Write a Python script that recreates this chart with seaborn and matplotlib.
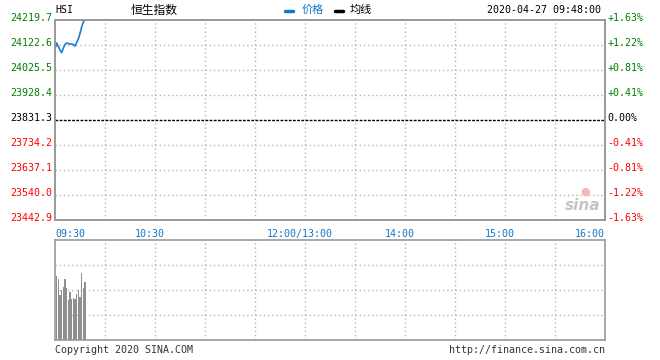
import numpy as np
import pandas as pd
import matplotlib
matplotlib.use("Agg")
import matplotlib.pyplot as plt
import matplotlib.transforms as mtransforms
import seaborn as sns

# ---------------- data ----------------
price_minutes = list(range(0, 19))          # 09:30 .. 09:48 (trading-minute index)
price_values = [24107.1, 24130.4, 24116.8, 24103.2, 24092.7, 24110.9, 24124.5,
                24130.4, 24128.4, 24126.5, 24126.5, 24124.5, 24118.7, 24132.3,
                24145.9, 24167.3, 24192.5, 24211.9, 24222.0]
volume_minutes = list(range(1, 19))
volume_values = [64, 61, 45, 50, 53, 61, 52, 40, 48, 41, 42, 41, 46, 50, 43, 67, 52, 58]

prev_close = 23831.3
left_ticks = [24219.7, 24122.6, 24025.5, 23928.4, 23831.3, 23734.2, 23637.1, 23540.0, 23442.9]
right_labels = ["+1.63%", "+1.22%", "+0.81%", "+0.41%", "0.00%", "-0.41%", "-0.81%", "-1.22%", "-1.63%"]
time_ticks = [0, 60, 150, 210, 270, 330]
time_labels = ["09:30", "10:30", "12:00/13:00", "14:00", "15:00", "16:00"]
grid_minutes = [30, 60, 90, 120, 150, 180, 210, 240, 270, 300]

title_code = "HSI"
title_name = "恒生指数"
legend_labels = ["价格", "均线"]
timestamp = "2020-04-27 09:48:00"
footer_left = "Copyright 2020 SINA.COM"
footer_right = "http://finance.sina.com.cn"

# ---------------- style ----------------
sns.set_theme(style="white")
plt.rcParams['font.family'] = ['DejaVu Sans Mono', 'Noto Sans CJK SC']
MONO = 7.2
BLUE = "#1a7fd0"
TBLUE = "#1177cc"
GREEN = "#008000"
RED = "#ff0000"
SPINE = "#999999"
GRID = "#b4b4b4"

W, H = 660, 360
fig = plt.figure(figsize=(W / 100, H / 100), dpi=100)

def px_rect(x0, y0, x1, y1):
    return [x0 / W, 1 - y1 / H, (x1 - x0) / W, (y1 - y0) / H]

ax = fig.add_axes(px_rect(55, 20, 605, 220))
axv = fig.add_axes(px_rect(55, 240, 605, 340))

df_price = pd.DataFrame({"minute": price_minutes, "price": price_values})
df_vol = pd.DataFrame({"minute": volume_minutes, "volume": volume_values})

# ---------------- main price panel ----------------
ymin, ymax = left_ticks[-1], left_ticks[0]
for t in grid_minutes:
    ax.axvline(t, color=GRID, lw=1, ls=(0, (1, 2)), zorder=0)
for v in left_ticks[1:-1]:
    if abs(v - prev_close) < 1e-6:
        ax.axhline(v, color="black", lw=1, ls=(0, (2, 1)), zorder=1)
    else:
        ax.axhline(v, color=GRID, lw=1, ls=(0, (1, 2)), zorder=0)

sns.lineplot(data=df_price, x="minute", y="price", ax=ax, color=BLUE, lw=1.2, zorder=3)
ax.set_xlim(0, 330)
ax.set_ylim(ymin, ymax)
ax.set_xlabel("")
ax.set_ylabel("")

def label_color(v):
    if v > prev_close + 1e-6:
        return GREEN
    if v < prev_close - 1e-6:
        return RED
    return "black"

up = mtransforms.ScaledTranslation(0, 3 / 100, fig.dpi_scale_trans)

ax.set_yticks(left_ticks)
ax.set_yticklabels([f"{v:.1f}" for v in left_ticks], fontsize=MONO)
ax.tick_params(axis="y", length=0, pad=2.2)
for lab, v in zip(ax.get_yticklabels(), left_ticks):
    lab.set_color(label_color(v))
    lab.set_transform(lab.get_transform() + up)

ax2 = ax.twinx()
ax2.set_ylim(ymin, ymax)
ax2.set_yticks(left_ticks)
ax2.set_yticklabels(right_labels, fontsize=MONO)
ax2.tick_params(axis="y", length=0, pad=1.5)
for lab, v in zip(ax2.get_yticklabels(), left_ticks):
    lab.set_color(label_color(v))
    lab.set_transform(lab.get_transform() + up)

ax.set_xticks(time_ticks)
ax.set_xticklabels(time_labels, fontsize=MONO, color=TBLUE)
ax.tick_params(axis="x", length=0, pad=6.5)
left_shift = mtransforms.ScaledTranslation(-5 / 100, 0, fig.dpi_scale_trans)
xl = ax.get_xticklabels()
for i, lab in enumerate(xl):
    if i == 0:
        lab.set_ha("left")
    elif i == len(xl) - 1:
        lab.set_ha("right")
    else:
        lab.set_transform(lab.get_transform() + left_shift)

for a in (ax, ax2):
    for s in a.spines.values():
        s.set_color(SPINE)
        s.set_linewidth(1.2)
        s.set_visible(True)

# sina watermark
fig.text(583 / W, 1 - 206 / H, "sina", fontsize=11, fontstyle="italic", fontweight="bold",
         color="#c4c4c4", ha="center", va="center", family="DejaVu Sans")
fig.text(585 / W, 1 - 192 / H, "●", fontsize=8, color="#f4b8b8", ha="center", va="center",
         family="DejaVu Sans")

# ---------------- volume panel ----------------
for t in grid_minutes:
    axv.axvline(t, color=GRID, lw=1, ls=(0, (1, 2)), zorder=0)
for v in (25, 50, 75):
    axv.axhline(v, color=GRID, lw=1, ls=(0, (1, 2)), zorder=0)
sns.barplot(data=df_vol, x="minute", y="volume", ax=axv, native_scale=True,
            color="#8f8f8f", width=0.7, saturation=1, zorder=2, linewidth=0)
axv.set_xlim(0, 330)
axv.set_ylim(0, 100)
axv.set_xticks([])
axv.set_yticks([])
axv.set_xlabel("")
axv.set_ylabel("")
for s in axv.spines.values():
    s.set_color(SPINE)
    s.set_linewidth(1.2)
    s.set_visible(True)

# ---------------- header / footer ----------------
def ftext(x, y, s, **kw):
    fig.text(x / W, 1 - y / H, s, va="center", **kw)

ftext(55, 10, title_code, fontsize=MONO, color="black", ha="left")
ftext(154, 10, title_name, fontsize=8.5, color="black", ha="center",
      family=["Noto Sans CJK SC", "DejaVu Sans"])
fig.add_artist(plt.Line2D([285 / W, 293 / W], [1 - 11 / H, 1 - 11 / H], color=TBLUE, lw=2.5))
ftext(302, 10, legend_labels[0], fontsize=8, color=TBLUE, ha="left",
      family=["Noto Sans CJK SC", "DejaVu Sans"])
fig.add_artist(plt.Line2D([335 / W, 343 / W], [1 - 11 / H, 1 - 11 / H], color="black", lw=2.5))
ftext(350, 10, legend_labels[1], fontsize=8, color="black", ha="left",
      family=["Noto Sans CJK SC", "DejaVu Sans"])
ftext(601, 10, timestamp, fontsize=MONO, color="black", ha="right")

ftext(55, 350, footer_left, fontsize=MONO, color="#333333", ha="left")
ftext(605, 350, footer_right, fontsize=MONO, color="#333333", ha="right")

fig.savefig("out.png", dpi=100)
